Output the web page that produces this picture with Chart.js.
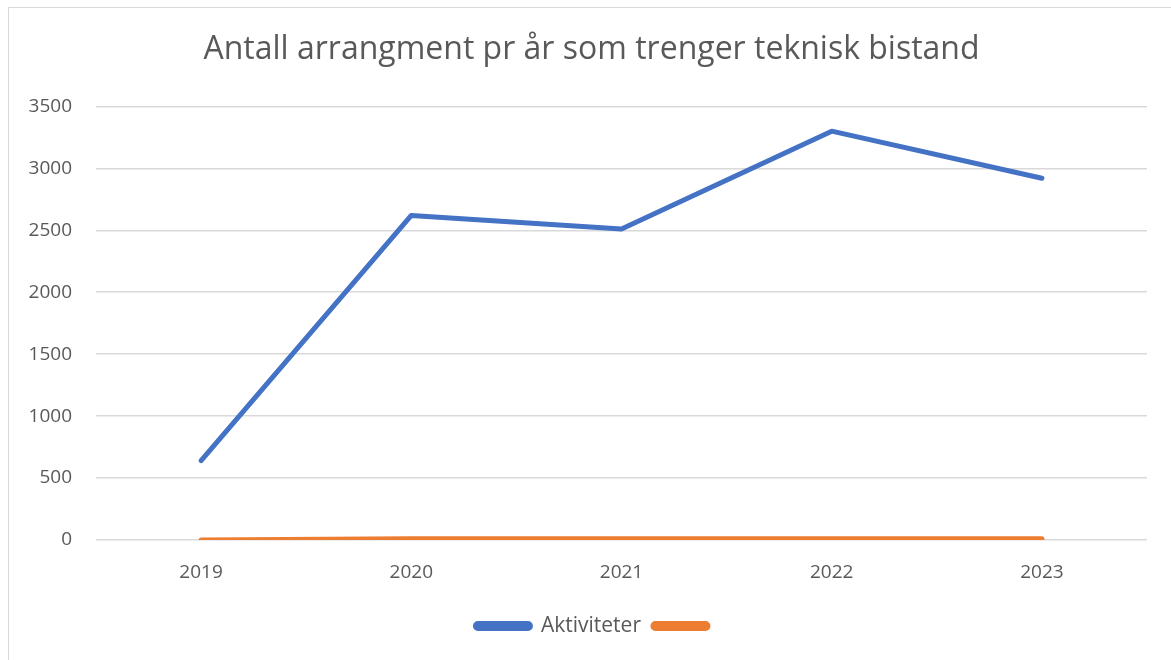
<!DOCTYPE html>
<html>
<head>
<meta charset="utf-8">
<script src="https://cdn.jsdelivr.net/npm/chart.js@4.4.1/dist/chart.umd.min.js"></script>
<style>
  html, body { margin: 0; padding: 0; background: #fff; overflow: hidden; }
  #ramme { position: absolute; left: 8px; top: 7px; width: 1300px; height: 800px; border: 1px solid #d9d9d9; }
  #boks { position: absolute; left: 0; top: 0; width: 1171px; height: 660px; }
</style>
</head>
<body>
<div id="ramme"></div>
<div id="boks"><canvas id="arrangement"></canvas></div>
<script>
var aar = ['2019', '2020', '2021', '2022', '2023'];
var aktiviteter = [640, 2620, 2510, 3300, 2920];
var serie2 = [0, 10, 10, 10, 10];
var yTicks = [0, 500, 1000, 1500, 2000, 2500, 3000, 3500];

var tekstfarge = '#595959';
var font = "'Open Sans', 'Liberation Sans', sans-serif";

var canvas = document.getElementById('arrangement');

var config = {
    type: 'line',
    data: {
        labels: aar,
        datasets: [{
            label: 'Aktiviteter',
            data: aktiviteter,
            borderColor: '#4472C4',
            backgroundColor: '#4472C4',
            borderWidth: 5,
            pointRadius: 0,
            borderCapStyle: 'round',
            borderJoinStyle: 'round',
            tension: 0
        }, {
            // serie uten navn, mellomrom gir samme plass i forklaringen som i Excel
            label: '         ',
            data: serie2,
            borderColor: '#ED7D31',
            backgroundColor: '#ED7D31',
            borderWidth: 5,
            pointRadius: 0,
            borderCapStyle: 'round',
            borderJoinStyle: 'round',
            tension: 0
        }]
    },
    options: {
        responsive: true,
        maintainAspectRatio: false,
        animation: false,
        layout: { padding: { left: 12, right: 0, top: 0, bottom: 13.5 } },
        plugins: {
            title: {
                display: true,
                text: 'Antall arrangment pr år som trenger teknisk bistand',
                color: tekstfarge,
                font: { family: font, size: 32, weight: 'normal' },
                padding: { top: 31, bottom: 37 }
            },
            legend: {
                position: 'bottom',
                fullSize: false,
                labels: {
                    color: tekstfarge,
                    font: { family: font, size: 21 },
                    boxWidth: 55,
                    boxHeight: 5,
                    padding: 12,
                    useBorderRadius: true,
                    borderRadius: 2.5
                }
            },
            tooltip: { enabled: false }
        },
        scales: {
            x: {
                offset: true,
                afterFit: function (scale) { scale.height = 63.5; },
                grid: { display: false, drawTicks: false },
                border: { display: false },
                ticks: { color: tekstfarge, font: { family: font, size: 19 }, padding: 21 }
            },
            y: {
                min: 0,
                max: 3500,
                afterFit: function (scale) { scale.width = 84; },
                afterBuildTicks: function (scale) {
                    scale.ticks = yTicks.map(function (v) { return { value: v }; });
                },
                grid: { color: '#d9d9d9', lineWidth: 1.5, drawTicks: false },
                border: { display: false },
                ticks: {
                    color: tekstfarge,
                    font: { family: font, size: 19 },
                    padding: 24,
                    callback: function (v) { return String(v); }
                }
            },
            hoyre: {
                position: 'right',
                afterFit: function (scale) { scale.width = 24; },
                grid: { display: false },
                border: { display: false },
                ticks: { display: false }
            }
        }
    }
};

window.arrangement = new Chart(canvas, config);
</script>
</body>
</html>
